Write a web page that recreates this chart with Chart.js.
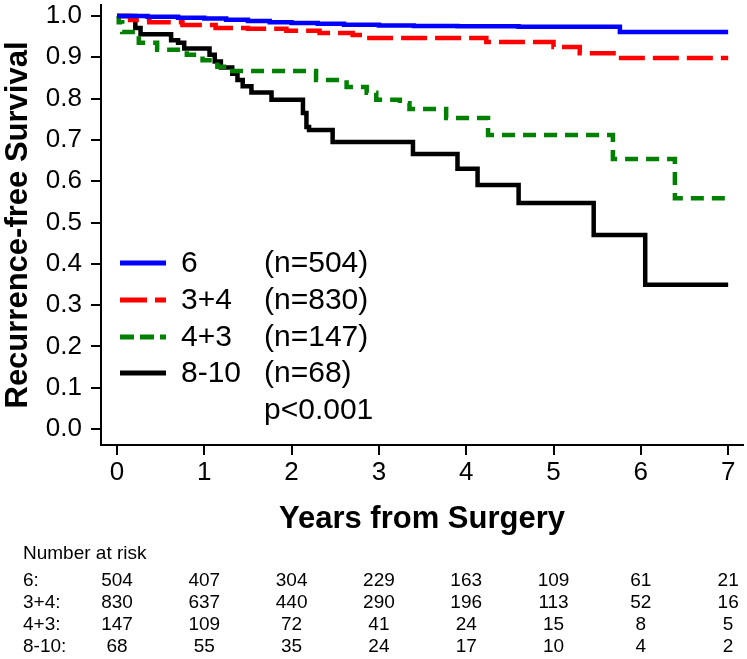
<!DOCTYPE html>
<html>
<head>
<meta charset="utf-8">
<script src="https://cdn.jsdelivr.net/npm/chart.js@4/dist/chart.umd.min.js"></script>
<style>
html,body{margin:0;padding:0;background:#fff;}
#wrap{width:747px;height:659px;position:relative;}
</style>
</head>
<body>
<div id="wrap"><canvas id="c" width="747" height="659"></canvas></div>
<script>
// ---- data ----
const yearTicks = [0, 1, 2, 3, 4, 5, 6, 7];
const survTicks = [0, 0.1, 0.2, 0.3, 0.4, 0.5, 0.6, 0.7, 0.8, 0.9, 1.0];

const groupNames = ['6', '3+4', '4+3', '8-10'];
const groupN = ['(n=504)', '(n=830)', '(n=147)', '(n=68)'];
const pValue = 'p<0.001';

const t6 = [0, 0.35, 0.7, 1.0, 1.25, 1.5, 1.75, 2.0, 2.3, 2.6, 3.0, 3.4, 3.9, 4.6, 5.76, 7.0];
const s6 = [1.0, 0.998, 0.996, 0.994, 0.991, 0.988, 0.985, 0.983, 0.981, 0.979, 0.977, 0.976, 0.975, 0.974, 0.961, 0.961];

const t34 = [0, 0.15, 0.37, 0.75, 1.13, 1.5, 1.94, 2.32, 2.7, 2.85, 4.23, 5.0, 5.3, 5.73, 7.0];
const s34 = [1.0, 0.99, 0.985, 0.978, 0.971, 0.969, 0.964, 0.959, 0.954, 0.947, 0.937, 0.925, 0.910, 0.898, 0.898];

const t43 = [0, 0.02, 0.06, 0.25, 0.46, 0.8, 0.98, 1.15, 1.32, 2.28, 2.63, 2.86, 2.97, 3.24, 3.35, 3.77, 4.25, 5.68, 6.39, 7.0];
const s43 = [1.0, 0.985, 0.961, 0.935, 0.918, 0.906, 0.893, 0.877, 0.867, 0.845, 0.828, 0.814, 0.797, 0.789, 0.775, 0.753, 0.712, 0.654, 0.559, 0.559];

const t810 = [0, 0.21, 0.27, 0.62, 0.7, 0.77, 1.06, 1.12, 1.19, 1.32, 1.38, 1.44, 1.54, 1.77, 2.13, 2.17, 2.2, 2.47, 3.39, 3.9, 4.13, 4.6, 5.46, 6.05, 7.0];
const s810 = [1.0, 0.971, 0.956, 0.941, 0.935, 0.921, 0.906, 0.89, 0.875, 0.86, 0.845, 0.83, 0.815, 0.797, 0.765, 0.731, 0.724, 0.695, 0.666, 0.63, 0.591, 0.547, 0.47, 0.349, 0.349];

const riskTitle = 'Number at risk';
const riskLabels = ['6:', '3+4:', '4+3:', '8-10:'];
const risk6 = [504, 407, 304, 229, 163, 109, 61, 21];
const risk34 = [830, 637, 440, 290, 196, 113, 52, 16];
const risk43 = [147, 109, 72, 41, 24, 15, 8, 5];
const risk810 = [68, 55, 35, 24, 17, 10, 4, 2];

// ---- styles ----
const colors = ['#0000FF', '#FF0000', '#008000', '#000000'];
const dashes = [[], [26, 8], [13, 8], []];
const FONT = '"Liberation Sans", Arial, sans-serif';

function pts(t, s) { return t.map((v, i) => ({ x: v, y: s[i] })); }
const series = [pts(t6, s6), pts(t34, s34), pts(t43, s43), pts(t810, s810)];
const riskRows = [risk6, risk34, risk43, risk810];

const legendPlugin = {
  id: 'kmLegend',
  afterDraw(chart) {
    const ctx = chart.ctx;
    ctx.save();
    const rows = [263, 300, 337, 373];
    ctx.font = '30px ' + FONT;
    ctx.textBaseline = 'middle';
    ctx.textAlign = 'left';
    rows.forEach((y, i) => {
      ctx.strokeStyle = colors[i];
      ctx.lineWidth = 5;
      ctx.lineCap = 'butt';
      ctx.setLineDash(i === 1 ? [27, 8] : i === 2 ? [14, 6] : []);
      ctx.beginPath();
      ctx.moveTo(120, y);
      ctx.lineTo(166, y);
      ctx.stroke();
      ctx.setLineDash([]);
      ctx.fillStyle = '#000';
      ctx.fillText(groupNames[i], 181, y + 1);
      ctx.fillText(groupN[i], 264, y + 1);
    });
    ctx.fillText(pValue, 264, 411);
    ctx.restore();
  }
};

const riskPlugin = {
  id: 'riskTable',
  afterDraw(chart) {
    const ctx = chart.ctx;
    const xs = chart.scales.x;
    ctx.save();
    ctx.fillStyle = '#000';
    ctx.font = '19px ' + FONT;
    ctx.textBaseline = 'middle';
    ctx.textAlign = 'left';
    ctx.fillText(riskTitle, 23, 554);
    const rowY = [581, 603, 625, 647];
    riskRows.forEach((row, r) => {
      ctx.textAlign = 'left';
      ctx.fillText(riskLabels[r], 23, rowY[r]);
      ctx.textAlign = 'center';
      row.forEach((v, i) => {
        ctx.fillText(String(v), xs.getPixelForValue(yearTicks[i]), rowY[r]);
      });
    });
    ctx.restore();
  }
};

new Chart(document.getElementById('c'), {
  type: 'line',
  data: {
    datasets: series.map((d, i) => ({
      label: groupNames[i],
      data: d,
      borderColor: colors[i],
      backgroundColor: colors[i],
      borderWidth: 4.5,
      borderDash: dashes[i],
      borderCapStyle: 'butt',
      stepped: true,
      pointRadius: 0,
      fill: false,
      tension: 0
    }))
  },
  options: {
    responsive: false,
    animation: false,
    devicePixelRatio: 1,
    layout: { padding: { left: 0, top: 5, right: 4, bottom: 121 } },
    plugins: { legend: { display: false }, tooltip: { enabled: false } },
    scales: {
      x: {
        type: 'linear',
        min: -0.183,
        max: 7.17,
        afterBuildTicks(s) { s.ticks = yearTicks.map(v => ({ value: v })); },
        afterFit(s) { s.height = 93; s.paddingLeft = 0; s.paddingRight = 0; },
        border: { display: true, color: '#000', width: 2 },
        grid: { display: true, drawOnChartArea: false, drawTicks: true, tickLength: 10, color: '#000', lineWidth: 2 },
        ticks: { color: '#000', font: { family: FONT, size: 26 }, padding: 2, maxRotation: 0, autoSkip: false,
                 callback: v => String(v) },
        title: { display: true, text: 'Years from Surgery', color: '#000',
                 font: { family: FONT, size: 31, weight: 'bold' }, padding: { top: 0, bottom: 0 } }
      },
      y: {
        type: 'linear',
        min: -0.0387,
        max: 1.0266,
        afterBuildTicks(s) { s.ticks = survTicks.map(v => ({ value: v })); },
        afterFit(s) { s.width = 101; s.paddingTop = 0; s.paddingBottom = 0; },
        border: { display: true, color: '#000', width: 2 },
        grid: { display: true, drawOnChartArea: false, drawTicks: true, tickLength: 10, color: '#000', lineWidth: 2 },
        ticks: { color: '#000', font: { family: FONT, size: 26 }, padding: 9, autoSkip: false,
                 callback: v => v.toFixed(1) },
        title: { display: true, text: 'Recurrence-free Survival', color: '#000',
                 font: { family: FONT, size: 31, weight: 'bold' }, padding: { top: 0, bottom: 0 } }
      }
    }
  },
  plugins: [legendPlugin, riskPlugin]
});
</script>
</body>
</html>
